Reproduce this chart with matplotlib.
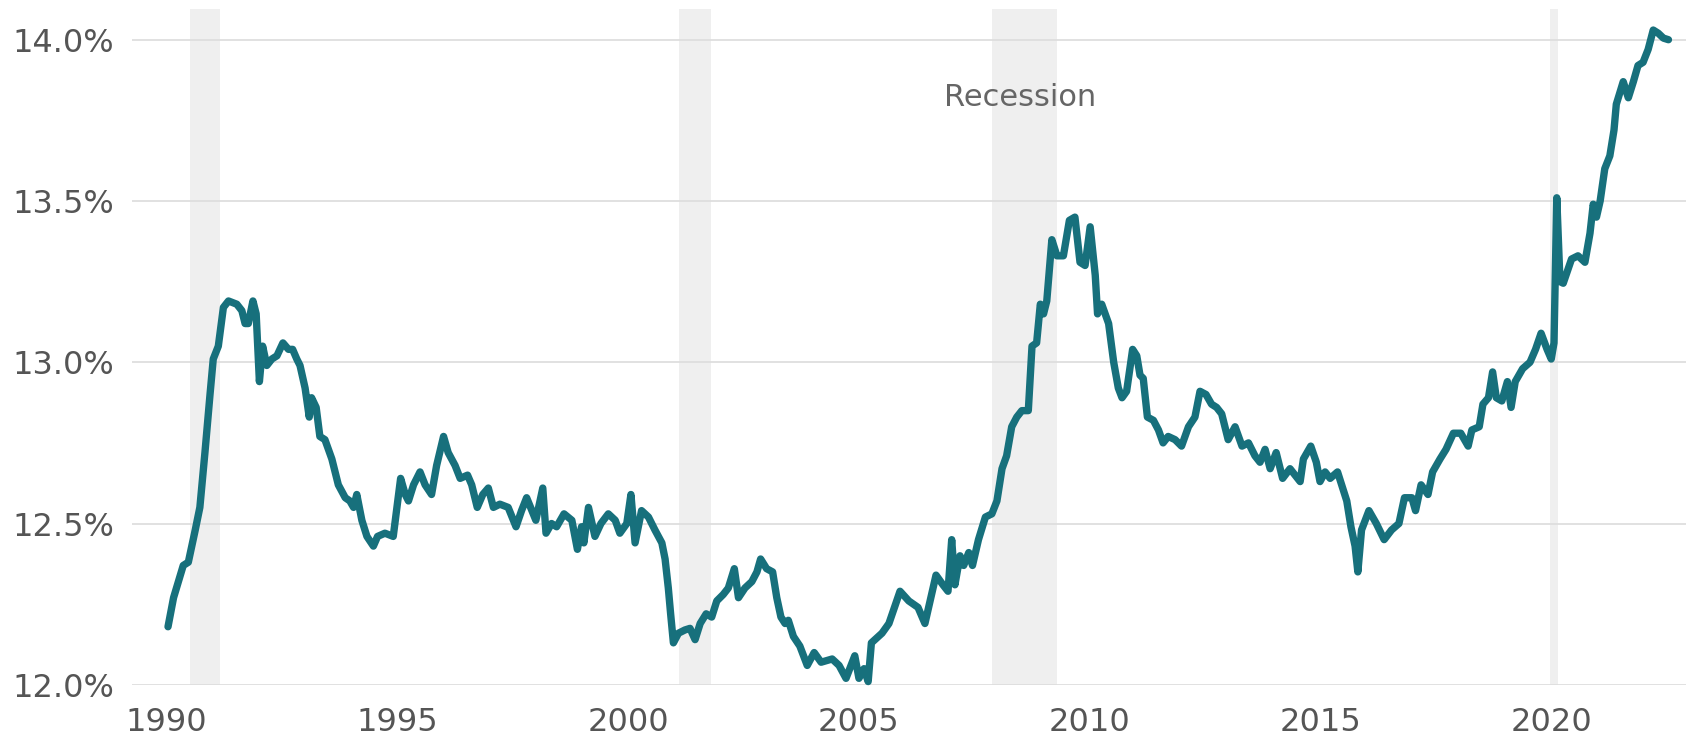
import matplotlib
matplotlib.use("Agg")
import matplotlib.pyplot as plt
from matplotlib.ticker import FuncFormatter

# decimal year and share (%)
years = [
    1990.03, 1990.15, 1990.36, 1990.47, 1990.62, 1990.72, 1990.83, 1990.94, 1991.01, 1991.12,
    1991.23, 1991.34, 1991.52, 1991.63, 1991.70, 1991.77, 1991.87, 1991.94, 1992.01, 1992.08,
    1992.17, 1992.28, 1992.39, 1992.52, 1992.64, 1992.73, 1992.82, 1992.89, 1993.00, 1993.09,
    1993.14, 1993.24, 1993.32, 1993.43, 1993.58, 1993.72, 1993.87, 1993.97, 1994.05, 1994.12,
    1994.23, 1994.34, 1994.48, 1994.57, 1994.73,
    1994.91, 1995.07, 1995.17, 1995.24, 1995.35, 1995.49, 1995.60, 1995.74, 1995.85, 1996.00,
    1996.10, 1996.25, 1996.36, 1996.52, 1996.61, 1996.73, 1996.85, 1996.97, 1997.08, 1997.22,
    1997.40, 1997.57, 1997.69, 1997.80, 1998.00, 1998.15, 1998.22, 1998.34, 1998.45, 1998.61,
    1998.78, 1998.90, 1998.99, 1999.04, 1999.14, 1999.28, 1999.41, 1999.57, 1999.72, 1999.82,
    1999.97, 2000.06, 2000.15,
    2000.29, 2000.44, 2000.58, 2000.73, 2000.80, 2000.87, 2000.92, 2000.98, 2001.09, 2001.23,
    2001.34, 2001.45, 2001.56, 2001.69, 2001.81, 2001.92, 2002.06, 2002.17, 2002.30, 2002.39,
    2002.53, 2002.68, 2002.79, 2002.87, 2003.00, 2003.13, 2003.22, 2003.31, 2003.40, 2003.47,
    2003.58, 2003.72,
    2003.88, 2004.03, 2004.18, 2004.42, 2004.57, 2004.72, 2004.91, 2005.00, 2005.11, 2005.20,
    2005.27, 2005.50, 2005.65, 2005.89, 2006.08, 2006.28, 2006.43, 2006.67, 2006.82, 2006.93,
    2007.01, 2007.08, 2007.19, 2007.27, 2007.38, 2007.46, 2007.59,
    2007.74, 2007.88, 2007.99, 2008.10, 2008.20, 2008.31, 2008.42, 2008.53, 2008.67, 2008.75,
    2008.85, 2008.93, 2009.00, 2009.07, 2009.18, 2009.29, 2009.43, 2009.56, 2009.68, 2009.79,
    2009.90, 2010.01, 2010.12, 2010.17, 2010.26,
    2010.41, 2010.52, 2010.62, 2010.70, 2010.80, 2010.93, 2011.02, 2011.09, 2011.16, 2011.25,
    2011.38, 2011.49, 2011.59, 2011.70, 2011.85, 2011.99, 2012.14, 2012.28, 2012.39, 2012.52,
    2012.64, 2012.75, 2012.86, 2013.00, 2013.15, 2013.30, 2013.44, 2013.58, 2013.69, 2013.80,
    2013.91, 2014.04, 2014.18, 2014.34, 2014.45, 2014.56, 2014.63, 2014.79, 2014.91, 2014.99,
    2015.10, 2015.21, 2015.37, 2015.46, 2015.57, 2015.66,
    2015.75, 2015.81, 2015.89, 2016.05, 2016.21, 2016.38, 2016.54, 2016.70, 2016.82, 2016.98,
    2017.06, 2017.18, 2017.33, 2017.43, 2017.59, 2017.72, 2017.88, 2018.04, 2018.20, 2018.28,
    2018.44, 2018.52, 2018.64, 2018.73, 2018.81, 2018.93, 2019.05, 2019.13, 2019.22, 2019.38,
    2019.54, 2019.66, 2019.78, 2019.91, 2020.00, 2020.06, 2020.12,
    2020.19, 2020.26, 2020.44, 2020.58, 2020.73, 2020.84, 2020.91, 2020.98, 2021.06, 2021.16,
    2021.27, 2021.36, 2021.41, 2021.56, 2021.67, 2021.78, 2021.88, 2021.99, 2022.10, 2022.21,
    2022.32, 2022.43, 2022.54,
]
share = [
    12.18, 12.27, 12.37, 12.38, 12.48, 12.55, 12.72, 12.90, 13.01, 13.05,
    13.17, 13.19, 13.18, 13.16, 13.12, 13.12, 13.19, 13.15, 12.94, 13.05,
    12.99, 13.01, 13.02, 13.06, 13.04, 13.04, 13.01, 12.99, 12.92, 12.83,
    12.89, 12.86, 12.77, 12.76, 12.70, 12.62, 12.58, 12.57, 12.55, 12.59,
    12.51, 12.46, 12.43, 12.46, 12.47,
    12.46, 12.64, 12.59, 12.57, 12.62, 12.66, 12.62, 12.59, 12.68, 12.77,
    12.72, 12.68, 12.64, 12.65, 12.62, 12.55, 12.59, 12.61, 12.55, 12.56,
    12.55, 12.49, 12.54, 12.58, 12.51, 12.61, 12.47, 12.50, 12.49, 12.53,
    12.51, 12.42, 12.49, 12.44, 12.55, 12.46, 12.50, 12.53, 12.51, 12.47,
    12.50, 12.59, 12.44,
    12.54, 12.52, 12.48, 12.44, 12.39, 12.30, 12.22, 12.13, 12.16, 12.17,
    12.175, 12.14, 12.19, 12.22, 12.21, 12.26, 12.28, 12.30, 12.36, 12.27,
    12.30, 12.32, 12.35, 12.39, 12.36, 12.35, 12.27, 12.21, 12.19, 12.20,
    12.15, 12.12,
    12.06, 12.10, 12.07, 12.08, 12.06, 12.02, 12.09, 12.02, 12.05, 12.01,
    12.13, 12.16, 12.19, 12.29, 12.26, 12.24, 12.19, 12.34, 12.31, 12.29,
    12.45, 12.31, 12.40, 12.37, 12.41, 12.37, 12.45,
    12.52, 12.53, 12.57, 12.67, 12.71, 12.80, 12.83, 12.85, 12.85, 13.05,
    13.06, 13.18, 13.15, 13.19, 13.38, 13.33, 13.33, 13.44, 13.45, 13.31,
    13.30, 13.42, 13.27, 13.15, 13.18,
    13.12, 13.00, 12.92, 12.89, 12.91, 13.04, 13.02, 12.96, 12.95, 12.83,
    12.82, 12.79, 12.75, 12.77, 12.76, 12.74, 12.80, 12.83, 12.91, 12.90,
    12.87, 12.86, 12.84, 12.76, 12.80, 12.74, 12.75, 12.71, 12.69, 12.73,
    12.67, 12.72, 12.64, 12.67, 12.65, 12.63, 12.70, 12.74, 12.69, 12.63,
    12.66, 12.64, 12.66, 12.62, 12.57, 12.49,
    12.43, 12.35, 12.48, 12.54, 12.50, 12.45, 12.48, 12.50, 12.58, 12.58,
    12.54, 12.62, 12.59, 12.66, 12.70, 12.73, 12.78, 12.78, 12.74, 12.79,
    12.80, 12.87, 12.89, 12.97, 12.89, 12.88, 12.94, 12.86, 12.94, 12.98,
    13.00, 13.04, 13.09, 13.04, 13.01, 13.06, 13.51,
    13.25, 13.245, 13.32, 13.33, 13.31, 13.40, 13.49, 13.45, 13.50, 13.60,
    13.64, 13.72, 13.80, 13.87, 13.82, 13.87, 13.92, 13.93, 13.97, 14.03,
    14.02, 14.005, 14.00,
]

# recession periods (start, end) in decimal years
recessions = [(1990.51, 1991.16), (2001.11, 2001.79), (2007.88, 2009.30), (2019.98, 2020.15)]

y_ticks = [12.0, 12.5, 13.0, 13.5, 14.0]
x_ticks = [1990, 1995, 2000, 2005, 2010, 2015, 2020]

fig = plt.figure(figsize=(16.86, 7.40), dpi=100)
ax = fig.add_axes([0.0783, 0.0746, 0.9217, 0.9127])

for start, end in recessions:
    ax.axvspan(start, end, color="#efefef", lw=0, zorder=0)

for v in y_ticks:
    ax.axhline(v, color="#dedede", lw=1.3, zorder=1)

ax.plot(years, share, color="#17707c", lw=5.3, solid_joinstyle="round",
        solid_capstyle="round", zorder=3, clip_on=False)

ax.text(2008.5, 13.82, "Recession", ha="center", va="center",
        fontsize=22, color="#666666")

ax.set_xlim(1989.25, 2022.92)
ax.set_ylim(12.0, 14.094)
ax.set_xticks(x_ticks)
ax.set_yticks(y_ticks)
ax.yaxis.set_major_formatter(FuncFormatter(lambda v, p: f"{v:.1f}%"))
ax.tick_params(axis="both", length=0, labelsize=23, labelcolor="#555555")
ax.tick_params(axis="x", pad=16)
ax.tick_params(axis="y", pad=13)
for s in ax.spines.values():
    s.set_visible(False)

fig.savefig("out.png", dpi=100)
